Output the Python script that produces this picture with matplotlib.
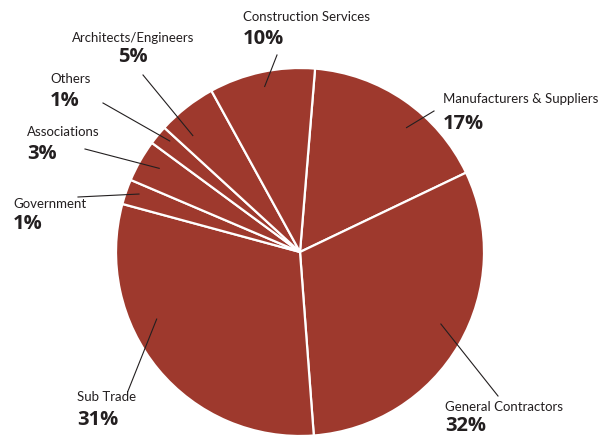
"""Pie chart of membership by sector, with leader-line labels."""

import matplotlib

matplotlib.use('Agg')
import matplotlib.pyplot as plt
import numpy as np

# clockwise from the top
sectors = ['Manufacturers & Suppliers', 'General Contractors', 'Sub Trade', 'Government',
           'Associations', 'Others', 'Architects/Engineers', 'Construction Services']
shares = [16.6, 30.9, 30.4, 2.2, 3.7, 1.7, 5.2, 9.3]
pct_labels = ['17%', '32%', '31%', '1%', '3%', '1%', '5%', '10%']

FILL = '#9e392d'
INK = '#231f20'
W, H = 608, 437
CX, CY, R = 300, 252, 184  # pie centre and radius in pixels (top-left origin)

# label layout: (text x, name baseline y, pct baseline y, align, leader outer end px,
#                anchor angle offset deg clockwise, anchor radius fraction)
layout = [
    (443, 103, 129, 'left', (434, 111), 6, 0.89),
    (445, 411, 431, 'left', (498, 396), -3, 0.86),
    (77, 401, 425, 'left', (128, 391), 14.5, 0.86),
    (13, 208, 229, 'left', (78, 197), 0.7, 0.93),
    (27, 136, 159, 'left', (85, 149), 1, 0.89),
    (50, 83, 106, 'left', (103, 103), 1, 0.93),
    (133, 42, 62, 'center', (143, 75), -4.5, 0.86),
    (243, 21, 44, 'left', (277, 55), 0, 0.92),
]


def fx(px):
    return px / W


def fy(py):
    return 1 - py / H


def to_data(px, py):
    return (px - CX) / R, (CY - py) / R


fig = plt.figure(figsize=(W / 100, H / 100), dpi=100)
ax = fig.add_axes([fx(CX - R), fy(CY + R), 2 * R / W, 2 * R / H])
wedges, _ = ax.pie(shares, startangle=85.3, counterclock=False, colors=[FILL] * len(shares),
                   wedgeprops=dict(edgecolor='white', linewidth=1.6))
ax.set_xlim(-1, 1)
ax.set_ylim(-1, 1)
ax.axis('off')

for wedge, name, pct, (tx, ny, py, ha, outer, dang, rf) in zip(wedges, sectors, pct_labels, layout):
    mid = np.deg2rad((wedge.theta1 + wedge.theta2) / 2 - dang)
    ax_, ay_ = rf * np.cos(mid), rf * np.sin(mid)
    ox, oy = to_data(*outer)
    ax.plot([ox, ax_], [oy, ay_], color=INK, lw=0.8, clip_on=False)
    fig.text(fx(tx), fy(ny), name, ha=ha, va='baseline', fontsize=9.5, color=INK,
             family=['Lato', 'DejaVu Sans'])
    fig.text(fx(tx), fy(py), pct, ha=ha, va='baseline', fontsize=14.5, color=INK,
             fontweight='bold', family=['Open Sans', 'DejaVu Sans'])

fig.savefig('out.png', dpi=100)
